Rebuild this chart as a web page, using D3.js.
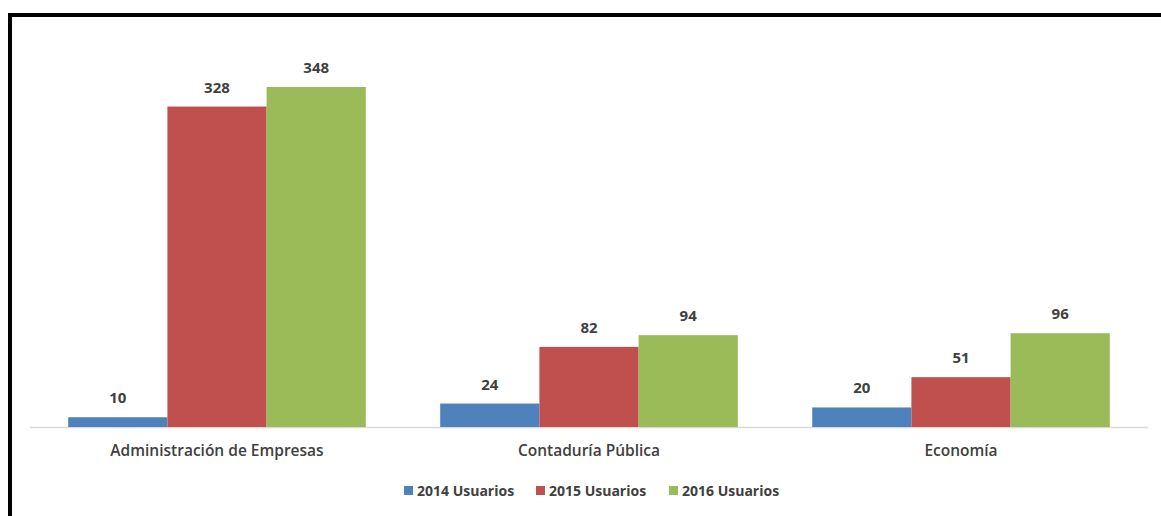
<!DOCTYPE html>
<html>
<head>
<meta charset="utf-8">
<script src="https://cdn.jsdelivr.net/npm/d3@7"></script>
<style>
  body { margin: 0; background: #fff; }
  svg text { font-family: "Open Sans", "Liberation Sans", sans-serif; fill: #404040; }
</style>
</head>
<body>
<div id="chart"></div>
<script>
// Data
const categories = ["Administración de Empresas", "Contaduría Pública", "Economía"];
const seriesNames = ["2014 Usuarios", "2015 Usuarios", "2016 Usuarios"];
const values2014 = [10, 24, 20];
const values2015 = [328, 82, 51];
const values2016 = [348, 94, 96];
const seriesColors = ["#4f81bd", "#c0504d", "#9bbb59"];

const width = 1161;
const height = 516;
const margin = { top: 87, left: 30, right: 13, bottom: 89 };
const baseY = height - margin.bottom;

const svg = d3.select('#chart')
  .append('svg')
  .attr('width', width)
  .attr('height', height);

// frame (left and top edges visible, the rest is cut off)
svg.append('path')
  .attr('d', 'M10,' + height + ' V15 H' + width)
  .attr('fill', 'none')
  .attr('stroke', '#000')
  .attr('stroke-width', 4);

const x0 = d3.scaleBand()
  .domain(categories)
  .range([margin.left + 1, width - margin.right - 1])
  .paddingInner(0.2)
  .paddingOuter(0.1);

const x1 = d3.scaleBand()
  .domain(seriesNames)
  .range([0, x0.bandwidth()]);

const y = d3.scaleLinear()
  .domain([0, 348])
  .range([baseY, margin.top]);

const rows = categories.map((c, i) => ({
  category: c,
  values: [values2014[i], values2015[i], values2016[i]]
}));

// baseline
svg.append('line')
  .attr('x1', margin.left)
  .attr('x2', width - margin.right)
  .attr('y1', baseY + 0.5)
  .attr('y2', baseY + 0.5)
  .attr('stroke', '#d9d9d9')
  .attr('stroke-width', 1.5);

const groups = svg.selectAll('.group')
  .data(rows)
  .enter()
  .append('g')
  .attr('class', 'group')
  .attr('transform', d => 'translate(' + x0(d.category) + ',0)');

groups.selectAll('rect')
  .data(d => d.values.map((v, i) => ({ name: seriesNames[i], value: v, idx: i })))
  .enter()
  .append('rect')
  .attr('x', d => x1(d.name))
  .attr('y', d => y(d.value))
  .attr('width', x1.bandwidth())
  .attr('height', d => baseY - y(d.value))
  .attr('fill', d => seriesColors[d.idx]);

groups.selectAll('.val')
  .data(d => d.values.map((v, i) => ({ name: seriesNames[i], value: v })))
  .enter()
  .append('text')
  .attr('class', 'val')
  .attr('x', d => x1(d.name) + x1.bandwidth() / 2)
  .attr('y', d => y(d.value) - 14)
  .attr('text-anchor', 'middle')
  .style('font-size', '15px')
  .style('font-weight', 'bold')
  .text(d => d.value);

// category axis labels
svg.selectAll('.cat')
  .data(categories)
  .enter()
  .append('text')
  .attr('class', 'cat')
  .attr('x', d => x0(d) + x0.bandwidth() / 2)
  .attr('y', baseY + 29)
  .attr('text-anchor', 'middle')
  .style('font-size', '15.5px')
  .style('font-weight', '600')
  .text(d => d);

// legend
const legendX = [404, 536, 669];
const legend = svg.selectAll('.legend')
  .data(seriesNames)
  .enter()
  .append('g')
  .attr('class', 'legend')
  .attr('transform', (d, i) => 'translate(' + legendX[i] + ',491)');

legend.append('rect')
  .attr('x', 0)
  .attr('y', -5)
  .attr('width', 9)
  .attr('height', 9)
  .attr('fill', (d, i) => seriesColors[i]);

legend.append('text')
  .attr('x', 13)
  .attr('y', 5)
  .style('font-size', '14px')
  .style('font-weight', 'bold')
  .text(d => d);
</script>
</body>
</html>
